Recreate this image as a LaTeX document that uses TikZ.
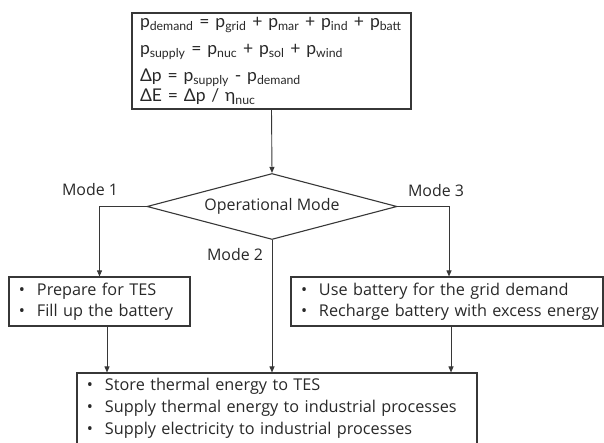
\documentclass[tikz,border=0pt]{standalone}
\usepackage{fontspec}
\setmainfont{Open Sans}
\newfontfamily\eqfont{Lato}
\usetikzlibrary{shapes.geometric,arrows.meta}
\definecolor{ln}{RGB}{55,55,55}
\definecolor{tx}{RGB}{40,40,40}
\newcommand\sbx[1]{\textsubscript{#1}}
\newcommand\itm[1]{\mbox{\makebox[18bp][l]{\textbullet}#1}}
\newcommand\eqline[1]{\mbox{#1}}
\tikzset{
  box/.style={draw=ln, line width=1.1bp, rectangle, inner xsep=10bp, inner ysep=0pt, align=left, text=tx, font=\fontsize{16.3}{21}\selectfont},
  dec/.style={draw=ln, line width=1.1bp, diamond, aspect=3.79, inner sep=0pt, minimum width=250bp, minimum height=66bp, text=tx, font=\fontsize{16}{18}\selectfont},
  lab/.style={text=tx, font=\fontsize{16}{18}\selectfont, inner sep=0pt},
  conn/.style={draw=ln, line width=0.9bp},
  arr/.style={conn, -{Triangle[length=6bp,width=5bp]}}
}
\begin{document}
\begin{tikzpicture}[x=1bp,y=-1bp]
\useasboundingbox (0,0) rectangle (604,443);
\node[box, inner xsep=8bp, font=\eqfont\fontsize{17.6}{20}\selectfont, text width=263bp, minimum height=96bp] (top) at (271.5,61)
  {\eqline{p\sbx{demand} = p\sbx{grid} + p\sbx{mar} + p\sbx{ind} + p\sbx{batt}}\\[7bp]
   \eqline{p\sbx{supply} = p\sbx{nuc} + p\sbx{sol} + p\sbx{wind}}\\[7bp]
   \eqline{Δp = p\sbx{supply} - p\sbx{demand}}\\
   \eqline{ΔE = Δp / η\sbx{nuc}}};
\node[dec] (dia) at (272,206.5) {Operational Mode};
\node[box, text width=161bp, minimum height=49bp] (lbox) at (99.5,301.5)
  {\itm{Prepare for TES}\\ \itm{Fill up the battery}};
\node[box, text width=292bp, minimum height=49bp] (rbox) at (447,301.5)
  {\itm{Use battery for the grid demand}\\ \itm{Recharge battery with excess energy}};
\node[box, font=\fontsize{16.3}{22}\selectfont, text width=380bp, minimum height=71bp] (bot) at (277,408.5)
  {\itm{Store thermal energy to TES}\\ \itm{Supply thermal energy to industrial processes}\\ \itm{Supply electricity to industrial processes}};
\node[lab] (m1) at (90,190) {Mode 1};
\node[lab] (m2) at (235,255) {Mode 2};
\node[lab] (m3) at (436,191) {Mode 3};
\draw[arr] (top.south) -- (dia.north);
\draw[arr] (dia.west) -| (lbox.north);
\draw[arr] (dia.east) -| ([xshift=2bp]rbox.north);
\draw[arr] (dia.south) -- (dia.south |- bot.north);
\draw[arr] ([xshift=7.5bp]lbox.south) -- ([xshift=7.5bp]lbox.south |- bot.north);
\draw[arr] ([xshift=4bp]rbox.south) -- ([xshift=4bp]rbox.south |- bot.north);
\end{tikzpicture}
\end{document}
